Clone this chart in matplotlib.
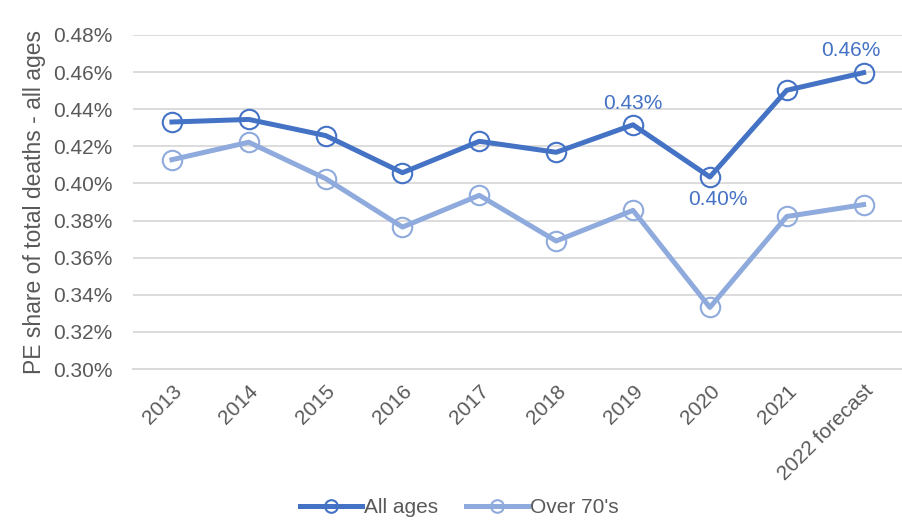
import matplotlib.pyplot as plt
from matplotlib.ticker import FuncFormatter

plt.rcParams["font.family"] = ["Liberation Sans", "DejaVu Sans"]

years = ["2013", "2014", "2015", "2016", "2017", "2018", "2019", "2020", "2021", "2022 forecast"]
all_ages = [0.4331, 0.4345, 0.4258, 0.4058, 0.4227, 0.4168, 0.4316, 0.4035, 0.4502, 0.4597]
over_70 = [0.4128, 0.4222, 0.4026, 0.3765, 0.3936, 0.3690, 0.3855, 0.3332, 0.3822, 0.3886]

# data labels shown on the "All ages" series: (index, text, offset in points)
labels = [(6, "0.43%", (0, 15)), (7, "0.40%", (6, -16)), (9, "0.46%", (-9, 16))]

dark = "#4472C4"
light = "#8FAADC"
grey = "#595959"

fig = plt.figure(figsize=(9.02, 5.22), dpi=100)
ax = fig.add_axes([0.148, 0.293, 0.852, 0.64])

x = range(len(years))
ax.plot(x, all_ages, color=dark, lw=3.6, marker="o", ms=14, mfc="none",
        mec=dark, mew=1.5, label="All ages", zorder=3)
ax.plot(x, over_70, color=light, lw=3.6, marker="o", ms=14, mfc="none",
        mec=light, mew=1.5, label="Over 70's", zorder=2)

for i, txt, off in labels:
    ax.annotate(txt, (i, all_ages[i]), xytext=off, textcoords="offset points",
                ha="center", va="center", fontsize=15, color=dark)

ax.set_xlim(-0.5, len(years) - 0.5)
ax.set_ylim(0.30, 0.48)
ax.set_yticks([0.30 + 0.02 * k for k in range(10)])
ax.yaxis.set_major_formatter(FuncFormatter(lambda v, p: f"{v:.2f}%"))
ax.set_xticks(list(x))
ax.set_xticklabels(years, rotation=45, ha="right", rotation_mode="anchor")

ax.grid(axis="y", color="#D9D9D9", lw=1.3)
ax.set_axisbelow(True)
for s in ["top", "right", "left"]:
    ax.spines[s].set_visible(False)
ax.spines["bottom"].set_color("#D9D9D9")
ax.spines["bottom"].set_linewidth(1.3)
ax.tick_params(axis="both", length=0, labelsize=15, labelcolor=grey)
ax.tick_params(axis="y", pad=15)
ax.tick_params(axis="x", pad=9)

ax.set_ylabel("PE share of total deaths - all ages", fontsize=16.5, color=grey, labelpad=5)

ax.legend(loc="center", bbox_to_anchor=(0.424, -0.415), ncol=2, frameon=False,
          fontsize=15, labelcolor=grey, handlelength=3.0, columnspacing=1.3,
          handletextpad=0.1, markerscale=0.65, borderpad=0.2)

fig.savefig("out.png", dpi=100)
